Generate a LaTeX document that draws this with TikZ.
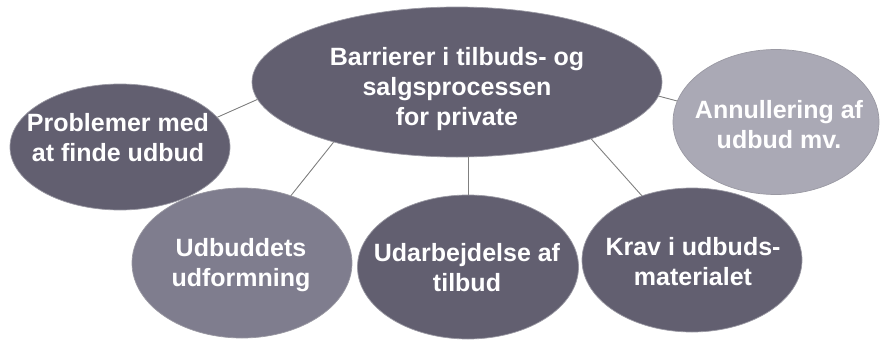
\documentclass[tikz,border=0pt]{standalone}
\usepackage{fontspec}
\setmainfont{Liberation Sans}
\usetikzlibrary{shapes.geometric}
\definecolor{darkslate}{HTML}{625F70}
\definecolor{midslate}{HTML}{7F7D8E}
\definecolor{lightslate}{HTML}{AAA9B5}
\definecolor{rimgray}{HTML}{9A99A3}
\definecolor{linkgray}{HTML}{808080}
\begin{document}
\begin{tikzpicture}[x=1pt,y=-1pt,
  bubble/.style={ellipse,draw=rimgray,line width=0.7pt,inner sep=0pt},
  bubbletext/.style={text=white,align=center,font=\bfseries\fontsize{25}{30}\selectfont},
  link/.style={draw=linkgray,line width=0.9pt}]
\useasboundingbox (0,0) rectangle (880,340);
% main topic
\node[bubble,fill=darkslate,minimum width=410pt,minimum height=150pt] (main) at (457,82) {};
% sub topics
\node[bubble,fill=darkslate,minimum width=220pt,minimum height=126pt] (find) at (120,147) {};
\node[bubble,fill=midslate,minimum width=220pt,minimum height=150pt] (form) at (242,263) {};
\node[bubble,fill=darkslate,minimum width=221pt,minimum height=144pt] (work) at (468,267) {};
\node[bubble,fill=darkslate,minimum width=220pt,minimum height=144pt] (req) at (692,260) {};
\node[bubble,fill=lightslate,minimum width=206pt,minimum height=145pt] (cancel) at (776,122) {};
% connectors
\draw[link] (main.185.7) -- (find.17.8);
\draw[link] (main.206.7) -- (form.54.8);
\draw[link] (main.south -| work.north) ++(0,-1) -- (work.north);
\draw[link] (main.337.6) -- (req.128.7);
\draw[link] (main.356.8) -- (cancel.168.6);
% labels
\node[bubbletext] (mainT) at (457,89) {Barrierer i tilbuds- og\\salgsprocessen\\for private};
\node[bubbletext] (findT) at (118,138) {Problemer med\\at finde udbud};
\node[bubbletext] (formT) at (241,265) {Udbuddets\\udformning};
\node[bubbletext] (workT) at (467,268) {Udarbejdelse af\\tilbud};
\node[bubbletext] (reqT) at (693,262) {Krav i udbuds-\\materialet};
\node[bubbletext] (cancelT) at (779,125) {Annullering af\\udbud mv.};
\end{tikzpicture}
\end{document}
